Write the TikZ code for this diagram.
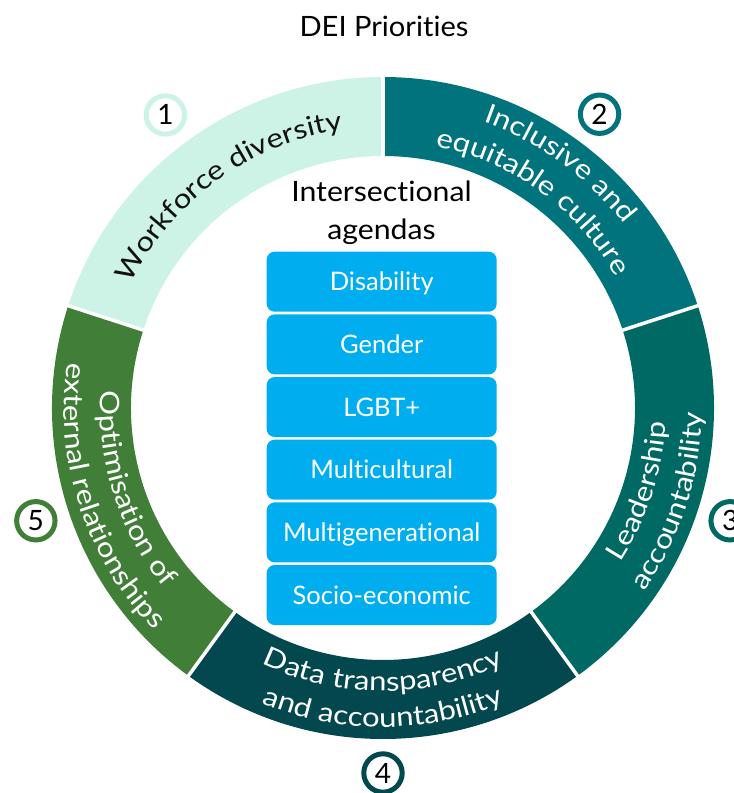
\documentclass[tikz,border=0pt]{standalone}
\usepackage{fontspec}
\setmainfont[Ligatures={NoCommon}]{Lato}
\newfontfamily\ringfam[FakeStretch=1.15,Ligatures={NoCommon}]{Lato}
\newfontfamily\headfam[FakeStretch=1.08,Ligatures={NoCommon}]{Lato}
\newfontfamily\titlefam[FakeStretch=1.04,Ligatures={NoCommon}]{Lato}
\usetikzlibrary{decorations.text}
\definecolor{segA}{HTML}{CDF2E6}
\definecolor{segB}{HTML}{00737D}
\definecolor{segC}{HTML}{006963}
\definecolor{segD}{HTML}{03474F}
\definecolor{segE}{HTML}{417F38}
\definecolor{boxblue}{HTML}{00AEEF}
\definecolor{inkdark}{HTML}{111111}
\newcommand\ringseg[3]{\fill[#3] (#1:331) arc[start angle=#1,end angle=#2,radius=331] -- (#2:252) arc[start angle=#2,end angle=#1,radius=252] -- cycle;}
\newcommand\ringfont{\ringfam\fontsize{27}{27}\selectfont}
\tikzset{
  agendabox/.style={fill=boxblue,rounded corners=8pt,minimum width=230pt,minimum height=60pt,inner sep=0pt,text=white,font=\fontsize{25.5}{25.5}\selectfont,text height=18.3pt,text depth=0pt},
  numcirc/.style={circle,draw=#1,line width=5pt,fill=white,minimum size=38.4pt,inner sep=0pt,font=\fontsize{28}{28}\selectfont,text height=20pt,text depth=0pt,text=black},
  headline/.style={font=\headfam\fontsize{28}{28}\selectfont,inner sep=0pt,anchor=base,text=black},
  gapline/.style={white,line width=3.5pt}
}
\begin{document}
\begin{tikzpicture}[x=1pt,y=1pt]
\useasboundingbox (-383,-385) rectangle (351,408);
% ring segments
\ringseg{90}{162}{segA}
\ringseg{18}{90}{segB}
\ringseg{-54}{18}{segC}
\ringseg{-126}{-54}{segD}
\ringseg{162}{234}{segE}
\foreach \a in {90,18,-54,-126,162} \draw[gapline] (\a:246) -- (\a:337);
% ring texts
\path[decorate,decoration={text along path,text align=center,text={|\ringfont\color{inkdark}|Workforce diversity}}] (162:281) arc[start angle=162,end angle=90,radius=281];
\path[decorate,decoration={text along path,text align=center,text={|\ringfont\color{white}|Inclusive and}}] (90:303) arc[start angle=90,end angle=18,radius=303];
\path[decorate,decoration={text along path,text align=center,text={|\ringfont\color{white}|equitable culture}}] (90:267) arc[start angle=90,end angle=18,radius=267];
\path[decorate,decoration={text along path,text align=center,text={|\ringfont\color{white}|Leadership}}] (-54:283) arc[start angle=-54,end angle=18,radius=283];
\path[decorate,decoration={text along path,text align=center,text={|\ringfont\color{white}|accountability}}] (-54:319) arc[start angle=-54,end angle=18,radius=319];
\path[decorate,decoration={text along path,text align=center,text={|\ringfont\color{white}|Data transparency}}] (-126:283) arc[start angle=-126,end angle=-54,radius=283];
\path[decorate,decoration={text along path,text align=center,text={|\ringfont\color{white}|and accountability}}] (-126:319) arc[start angle=-126,end angle=-54,radius=319];
\path[decorate,decoration={text along path,text align=center,text={|\ringfont\color{white}|Optimisation of}}] (162:283) arc[start angle=162,end angle=234,radius=283];
\path[decorate,decoration={text along path,text align=center,text={|\ringfont\color{white}|external relationships}}] (162:319) arc[start angle=162,end angle=234,radius=319];
% numbers
\node[numcirc=segA] (n1) at (126.6:365) {1};
\node[numcirc=segB] (n2) at (53.6:365) {2};
\node[numcirc=segC] (n3) at (-18:365) {3};
\node[numcirc=segD] (n4) at (-90:365) {4};
\node[numcirc=segE] (n5) at (198:365) {5};
% title and headings
\node[headline,font=\titlefam\fontsize{28}{28}\selectfont] (title) at (1,371.3) {DEI Priorities};
\node[headline] (interA) at (-1.5,206.3) {Intersectional};
\node[headline] (interB) at (-1.5,168) {agendas};
% agenda boxes
\node[agendabox] (b1) at (-1.3,126.3) {Disability};
\node[agendabox] (b2) at (-1.3,63.63) {Gender};
\node[agendabox] (b3) at (-1.3,0.96) {LGBT+};
\node[agendabox] (b4) at (-1.3,-61.7) {Multicultural};
\node[agendabox] (b5) at (-1.3,-124.4) {Multigenerational};
\node[agendabox] (b6) at (-1.3,-187.0) {Socio-economic};
\end{tikzpicture}
\end{document}
